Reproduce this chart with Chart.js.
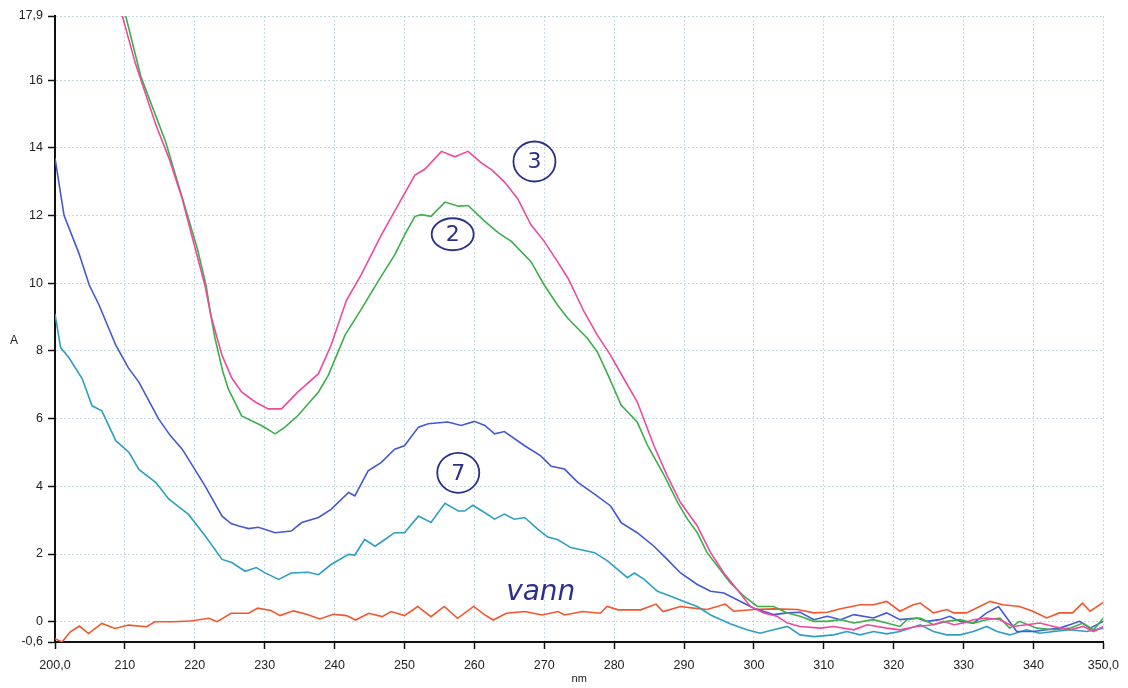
<!DOCTYPE html>
<html>
<head>
<meta charset="utf-8">
<script src="https://cdn.jsdelivr.net/npm/chart.js@4/dist/chart.umd.min.js"></script>
<style>
  html, body { margin: 0; padding: 0; background: #fff; }
  #chart { display: block; }
</style>
</head>
<body>
<canvas id="chart" width="1128" height="688"></canvas>
<script>
// wavelengths (nm) and absorbance for each trace
const pinkNm = [209.5, 211.5, 214.4, 216.3, 218.2, 220.1, 221.5, 222.3, 223.9, 225.3, 226.7, 228.6, 230.5, 232.4, 234.8, 237.7, 239.5, 241.7, 243.8, 246.7, 249.1, 251.5, 252.9, 255.3, 257.2, 259.1, 261.0, 262.5, 264.3, 266.2, 268.1, 270.0, 271.9, 273.4, 275.7, 277.6, 279.5, 281.4, 283.3, 285.7, 287.6, 289.5, 291.9, 293.8, 295.7, 297.6, 299.5, 301.4, 303.3, 304.8, 306.6, 309.5, 311.4, 314.3, 316.2, 319.0, 320.9, 323.3, 325.7, 327.1, 328.6, 330.0, 331.4, 333.3, 335.2, 337.1, 339.0, 340.9, 342.9, 345.2, 347.1, 348.6, 350.0];
const pinkAbs = [18.0, 16.5, 14.7, 13.7, 12.5, 11.0, 9.9, 9.05, 7.87, 7.2, 6.79, 6.5, 6.29, 6.29, 6.8, 7.33, 8.17, 9.5, 10.25, 11.43, 12.32, 13.2, 13.37, 13.9, 13.74, 13.9, 13.56, 13.35, 13.0, 12.5, 11.73, 11.24, 10.64, 10.15, 9.16, 8.47, 7.87, 7.18, 6.5, 5.2, 4.31, 3.52, 2.83, 2.04, 1.44, 0.95, 0.45, 0.26, 0.16, -0.04, -0.14, -0.19, -0.14, -0.24, -0.09, -0.19, -0.24, -0.14, -0.09, 0.01, -0.09, -0.04, 0.06, 0.11, 0.06, -0.14, -0.09, -0.04, -0.14, -0.24, -0.14, -0.29, -0.14];

const greenNm = [210.0, 212.3, 215.8, 218.4, 220.4, 221.6, 222.3, 222.9, 224.0, 224.8, 226.7, 229.6, 231.5, 232.9, 234.8, 237.7, 239.1, 241.5, 243.9, 246.2, 248.6, 250.2, 251.5, 252.4, 253.8, 255.8, 257.7, 259.1, 261.5, 263.4, 265.3, 268.1, 270.0, 271.9, 273.4, 276.2, 277.6, 279.1, 281.0, 283.3, 284.8, 287.2, 289.1, 290.5, 291.9, 293.3, 294.8, 296.6, 298.6, 300.5, 302.8, 304.8, 306.6, 308.6, 310.5, 312.4, 314.3, 317.1, 319.0, 320.9, 321.9, 323.8, 325.7, 327.6, 329.5, 331.4, 333.3, 335.2, 336.6, 338.0, 340.5, 342.9, 345.2, 347.1, 348.6, 350.0];
const greenAbs = [18.0, 16.1, 14.2, 12.4, 11.0, 9.95, 9.05, 8.37, 7.4, 6.88, 6.08, 5.79, 5.55, 5.75, 6.1, 6.79, 7.28, 8.47, 9.26, 10.05, 10.84, 11.5, 11.98, 12.03, 11.98, 12.4, 12.28, 12.3, 11.83, 11.5, 11.24, 10.64, 9.95, 9.36, 8.96, 8.37, 7.97, 7.3, 6.4, 5.9, 5.2, 4.31, 3.52, 3.03, 2.63, 2.04, 1.64, 1.15, 0.75, 0.45, 0.45, 0.26, 0.16, 0.01, 0.01, 0.06, -0.04, 0.06, -0.04, -0.14, 0.06, 0.11, -0.09, 0.01, 0.06, -0.04, 0.06, 0.11, -0.19, 0.01, -0.19, -0.24, -0.19, -0.04, -0.24, 0.11];

const blueNm = [200.0, 201.3, 203.4, 204.9, 206.3, 208.7, 210.5, 212.0, 214.8, 216.5, 218.2, 220.0, 221.5, 223.9, 225.2, 226.3, 227.7, 229.1, 231.5, 233.8, 235.3, 237.7, 239.5, 242.0, 242.9, 244.8, 246.7, 248.6, 250.0, 252.0, 253.4, 256.2, 258.1, 260.0, 261.5, 262.9, 264.3, 267.2, 269.5, 271.0, 272.9, 274.8, 277.2, 279.5, 281.0, 283.3, 285.7, 287.6, 289.5, 291.9, 293.8, 295.7, 297.6, 300.0, 302.8, 304.8, 306.6, 308.6, 310.5, 312.4, 314.3, 317.1, 319.0, 320.9, 323.3, 324.7, 326.6, 328.0, 329.5, 331.4, 333.3, 335.0, 336.2, 337.6, 339.9, 341.9, 343.7, 345.2, 346.6, 348.1, 350.0];
const blueAbs = [13.7, 12.0, 10.9, 9.95, 9.36, 8.17, 7.5, 7.08, 6.0, 5.5, 5.1, 4.5, 4.0, 3.12, 2.9, 2.83, 2.75, 2.79, 2.63, 2.68, 2.93, 3.08, 3.32, 3.82, 3.72, 4.46, 4.71, 5.1, 5.2, 5.75, 5.85, 5.9, 5.8, 5.92, 5.8, 5.55, 5.62, 5.2, 4.9, 4.59, 4.51, 4.12, 3.77, 3.42, 2.93, 2.63, 2.23, 1.84, 1.44, 1.1, 0.9, 0.85, 0.65, 0.4, 0.21, 0.26, 0.28, 0.06, 0.16, 0.06, 0.21, 0.11, 0.26, 0.06, 0.11, 0.01, 0.06, 0.16, 0.01, -0.04, 0.26, 0.45, 0.11, -0.29, -0.29, -0.24, -0.19, -0.09, 0.01, -0.19, 0.01];

const tealNm = [200.0, 200.8, 202.0, 203.9, 205.3, 206.7, 208.7, 210.6, 212.0, 214.4, 216.3, 219.1, 221.5, 223.9, 225.3, 227.2, 228.8, 230.0, 232.0, 233.8, 236.2, 237.7, 239.5, 242.0, 242.9, 244.3, 245.8, 247.2, 248.6, 250.0, 252.0, 253.8, 255.8, 257.7, 258.6, 259.8, 261.5, 262.9, 264.3, 265.7, 267.2, 269.1, 270.5, 271.9, 273.8, 277.2, 279.1, 281.9, 282.9, 284.3, 286.2, 288.1, 290.0, 291.9, 293.8, 296.6, 299.0, 300.9, 302.8, 304.8, 306.6, 308.6, 311.4, 313.3, 315.2, 317.1, 319.0, 320.9, 323.8, 325.7, 327.6, 329.5, 331.4, 333.3, 334.8, 336.6, 339.0, 340.9, 342.9, 345.2, 347.6, 350.0];
const tealAbs = [9.1, 8.1, 7.8, 7.18, 6.38, 6.23, 5.35, 5.0, 4.5, 4.12, 3.62, 3.17, 2.53, 1.84, 1.75, 1.49, 1.6, 1.45, 1.25, 1.44, 1.46, 1.39, 1.69, 1.99, 1.97, 2.43, 2.23, 2.43, 2.63, 2.63, 3.12, 2.93, 3.5, 3.27, 3.27, 3.44, 3.22, 3.03, 3.18, 3.03, 3.08, 2.73, 2.5, 2.43, 2.19, 2.04, 1.79, 1.3, 1.44, 1.25, 0.9, 0.75, 0.6, 0.45, 0.2, -0.06, -0.24, -0.34, -0.24, -0.14, -0.39, -0.44, -0.39, -0.29, -0.39, -0.29, -0.36, -0.29, -0.09, -0.29, -0.39, -0.39, -0.29, -0.14, -0.29, -0.39, -0.24, -0.34, -0.29, -0.24, -0.29, -0.19];

const vannNm = [200.0, 201.0, 202.2, 203.5, 204.8, 206.7, 208.6, 210.5, 213.1, 214.3, 216.9, 219.4, 222.0, 223.2, 225.2, 227.7, 229.0, 230.9, 232.2, 234.1, 236.0, 237.9, 239.8, 241.7, 243.0, 244.9, 246.8, 248.1, 250.0, 251.9, 253.8, 255.7, 257.6, 259.9, 261.5, 262.7, 264.6, 267.2, 269.7, 272.0, 272.9, 275.5, 278.0, 279.0, 280.6, 283.8, 286.0, 287.0, 289.5, 291.4, 293.3, 295.9, 297.1, 300.0, 302.8, 306.2, 308.6, 310.5, 312.4, 315.2, 317.1, 319.0, 320.9, 322.8, 323.8, 325.7, 327.6, 328.6, 330.4, 332.3, 333.8, 335.6, 338.0, 339.9, 341.9, 343.7, 345.6, 347.0, 348.1, 350.0];
const vannAbs = [-0.5, -0.6, -0.3, -0.13, -0.35, -0.05, -0.2, -0.1, -0.15, 0.0, 0.0, 0.02, 0.1, 0.0, 0.25, 0.25, 0.4, 0.33, 0.18, 0.32, 0.22, 0.08, 0.22, 0.18, 0.05, 0.25, 0.15, 0.3, 0.18, 0.45, 0.15, 0.45, 0.1, 0.45, 0.2, 0.05, 0.25, 0.3, 0.2, 0.3, 0.2, 0.3, 0.25, 0.45, 0.35, 0.35, 0.52, 0.3, 0.45, 0.4, 0.36, 0.52, 0.31, 0.36, 0.38, 0.36, 0.26, 0.28, 0.38, 0.5, 0.5, 0.6, 0.31, 0.5, 0.55, 0.26, 0.36, 0.26, 0.26, 0.45, 0.6, 0.5, 0.45, 0.31, 0.11, 0.26, 0.26, 0.55, 0.31, 0.57];

// axis ticks
const yTicks = [-0.6, 0, 2, 4, 6, 8, 10, 12, 14, 16, 17.9];
const xMin = 200;
const xMax = 350;

// handwritten notes on the printout
const noteText = ['3', '2', '7', 'vann'];
const noteNm = [268.6, 256.9, 257.7, 269.5];
const noteAbs = [13.6, 11.45, 4.4, 0.86];

function toPoints(xs, ys) {
  return xs.map((x, i) => ({ x: x, y: ys[i] }));
}

function commaLabel(v) {
  return String(v).replace('.', ',');
}

const notesPlugin = {
  id: 'notes',
  afterDatasetsDraw(chart) {
    const ctx = chart.ctx;
    const xs = chart.scales.x;
    const ys = chart.scales.y;
    ctx.save();
    ctx.strokeStyle = '#2c2f8c';
    ctx.fillStyle = '#2c2f8c';
    ctx.lineWidth = 1.8;
    ctx.textAlign = 'center';
    ctx.textBaseline = 'middle';
    noteText.forEach((t, i) => {
      const px = xs.getPixelForValue(noteNm[i]);
      const py = ys.getPixelForValue(noteAbs[i]);
      if (t === 'vann') {
        ctx.font = 'italic 28px "DejaVu Sans"';
        ctx.fillText(t, px, py);
        return;
      }
      ctx.font = '22px "DejaVu Sans"';
      ctx.fillText(t, px, py + 1);
      ctx.beginPath();
      const rx = 21;
      const ry = t === '2' ? 16 : 20;
      ctx.ellipse(px, py, rx, ry, 0, 0, Math.PI * 2);
      ctx.stroke();
    });

    // y axis title sits upright left of the ticks
    ctx.fillStyle = '#222';
    ctx.font = '12px "Liberation Sans"';
    ctx.fillText('A', 14, ys.getPixelForValue(8.3));
    ctx.restore();
  }
};

const lineStyle = {
  borderWidth: 1.6,
  pointRadius: 0,
  tension: 0,
  fill: false
};

const gridOpts = {
  color: 'rgba(150, 190, 198, 0.55)',
  lineWidth: 1,
  tickColor: '#111',
  tickWidth: 1.5,
  tickLength: 7
};

const ctx = document.getElementById('chart').getContext('2d');
new Chart(ctx, {
  type: 'line',
  data: {
    datasets: [
      { label: '3', data: toPoints(pinkNm, pinkAbs), borderColor: '#ee4a9d', ...lineStyle },
      { label: '2', data: toPoints(greenNm, greenAbs), borderColor: '#3dae4a', ...lineStyle },
      { label: '7', data: toPoints(blueNm, blueAbs), borderColor: '#4558d4', ...lineStyle },
      { label: 'teal', data: toPoints(tealNm, tealAbs), borderColor: '#2e9fc2', ...lineStyle },
      { label: 'vann', data: toPoints(vannNm, vannAbs), borderColor: '#f2562c', ...lineStyle }
    ]
  },
  options: {
    responsive: false,
    animation: false,
    layout: { padding: { top: 16, right: 21, left: 0, bottom: 0 } },
    plugins: {
      legend: { display: false },
      tooltip: { enabled: false }
    },
    scales: {
      x: {
        type: 'linear',
        min: xMin,
        max: xMax,
        grid: gridOpts,
        border: { display: true, color: '#111', width: 2, dash: [2, 2] },
        ticks: {
          stepSize: 10,
          autoSkip: false,
          maxRotation: 0,
          padding: 9,
          color: '#222',
          font: { family: '"Liberation Sans", Arial, sans-serif', size: 12.5 },
          callback: v => (v === xMin || v === xMax) ? v.toFixed(1).replace('.', ',') : v
        },
        title: {
          display: true,
          text: 'nm',
          color: '#222',
          font: { family: '"Liberation Sans", Arial, sans-serif', size: 11 },
          padding: { top: 0, bottom: 2 }
        },
        afterFit: scale => { scale.height = 46; }
      },
      y: {
        type: 'linear',
        min: yTicks[0],
        max: yTicks[yTicks.length - 1],
        grid: gridOpts,
        border: { display: true, color: '#111', width: 2, dash: [2, 2] },
        afterBuildTicks: scale => { scale.ticks = yTicks.map(v => ({ value: v })); },
        ticks: {
          autoSkip: false,
          padding: 5,
          color: '#222',
          font: { family: '"Liberation Sans", Arial, sans-serif', size: 12.5 },
          callback: v => commaLabel(v)
        },
        afterFit: scale => { scale.width = 55; }
      }
    }
  },
  plugins: [notesPlugin]
});
</script>
</body>
</html>
